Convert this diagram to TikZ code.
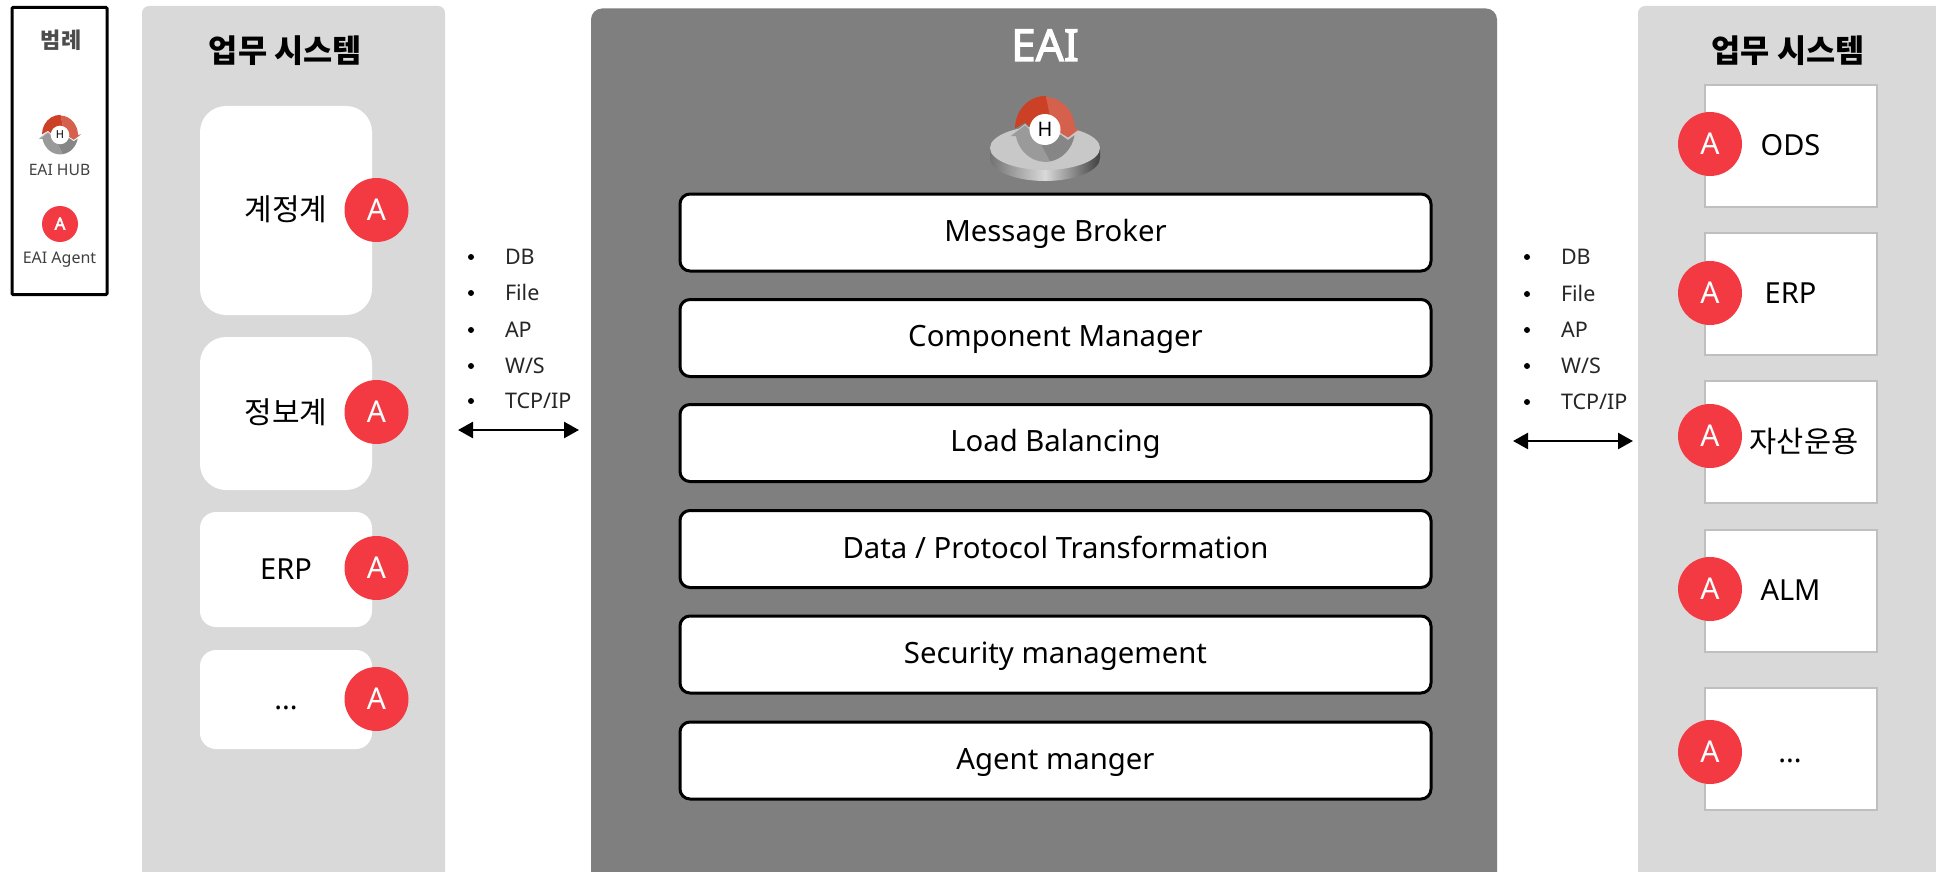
\documentclass[tikz,border=0pt]{standalone}
\usepackage{fontspec}
\setmainfont{Noto Sans}
\newfontfamily\kr{Noto Sans CJK KR}
\newfontfamily\semi[FakeBold=2.5]{Noto Sans}
\usetikzlibrary{arrows.meta}
\definecolor{panelgray}{HTML}{D9D9D9}
\definecolor{hubgray}{HTML}{7F7F7F}
\definecolor{agentred}{HTML}{F33A43}
\definecolor{boxedge}{HTML}{BFBFBF}
\definecolor{hubred}{HTML}{CC4125}
\definecolor{hubredlt}{HTML}{D5604C}
\definecolor{ringlt}{HTML}{9A9A9A}
\definecolor{ringdk}{HTML}{868686}
\definecolor{disktop}{HTML}{C8C8C8}
\newcommand{\fs}[1]{\fontsize{#1}{#1}\selectfont}
\newcommand{\capstrut}{\rule[-.17em]{0pt}{1.02em}}
\tikzset{
  x=1pt,y=-1pt,
  blockbox/.style={inner sep=0pt,outer sep=0pt,text=black,execute at begin node=\capstrut},
  panel/.style={inner sep=0pt,outer sep=0pt,fill=panelgray,rounded corners=7pt,minimum width=#1},
  whitebox/.style={blockbox,fill=white,font=\fs{29},minimum width=172pt},
  sysbox/.style={blockbox,fill=white,draw=boxedge,line width=2pt,font=\fs{29},minimum width=172pt,minimum height=122pt},
  rowbox/.style={blockbox,fill=white,draw=black,line width=3pt,rounded corners=10pt,font=\fs{29.3},minimum width=751pt,minimum height=77pt},
  agent/.style={circle,inner sep=0pt,outer sep=0pt,fill=agentred,text=white,minimum size=#1,execute at begin node=\capstrut},
  agent/.default=64pt,
  plain/.style={inner sep=0pt,outer sep=0pt,execute at begin node=\capstrut},
  listtext/.style={plain,anchor=west,font=\fs{21.5},text=black!85},
  bullet/.style={circle,fill=black,inner sep=0pt,minimum size=6pt},
  title/.style={plain,text=black,font=\kr\bfseries\fs{31.7}},
  link/.style={line width=2.5pt,{Triangle[length=15pt,width=16pt]}-{Triangle[length=15pt,width=16pt]}}
}
\newcommand{\hubring}[5]{% name, cx, cy, scale, H size
  \begin{scope}[shift={(#2,#3)},scale=#4]
    \fill[ringlt] (-35,6.5) -- (-20,-5) -- (-9,5.5) -- (5,32) arc (81:168:30 and 32.5) -- cycle;
    \fill[ringdk] (5,32) -- (-9,5.5) -- (11,2) -- (23,10.5) -- (29.5,5.8) arc (10.5:81:30 and 32.5) -- cycle;
    \draw[disktop,line width=.8pt] (-35,6.5) -- (-20,-5) -- (-9,5.5);
    \fill[hubred] (-30,-1) arc (180:272:30 and 32.5) -- (5,-14) -- (0,-1) -- (-13,-1) -- (-20,-7) -- cycle;
    \fill[hubredlt] (1,-32.5) arc (272:360:30 and 32.5) -- (35,-1) -- (23,8) -- (11,0.5) -- (0,-1) -- (5,-14) -- cycle;
    \node[circle,fill=white,inner sep=0pt,minimum size=31pt*#4] (#1) at (0,0) {\fs{#5}H};
  \end{scope}
}
\begin{document}
\begin{tikzpicture}
\useasboundingbox (0,0) rectangle (1936,872);
\clip (0,0) rectangle (1936,872);
\fill[white] (0,0) rectangle (1936,872);

% legend
\node[draw=black,line width=3pt,rounded corners=1pt,minimum width=95pt,minimum height=287pt,inner sep=0pt] (legend) at (59.5,151) {};
\node[plain,font=\kr\bfseries\fs{22},text=black!70] (legendtitle) at (61,41) {범례};
\hubring{legendhub}{60}{135}{0.6}{11}
\node[plain,font=\fs{15.7},text=black!75] (legendhublabel) at (59.5,170) {EAI HUB};
\node[agent=36pt,font=\semi\fs{17}] (legendagent) at (60,224) {A};
\node[plain,font=\fs{16},text=black!75] (legendagentlabel) at (59.5,259) {EAI Agent};

% left panel
\node[panel=303pt,minimum height=880pt] (leftpanel) at (293.5,446) {};
\node[title] (lefttitle) at (285.5,52) {업무 시스템};
\node[whitebox,rounded corners=26pt,minimum height=209pt,font=\kr\fs{30}] (acct) at (286,210.5) {계정계};
\node[whitebox,rounded corners=26pt,minimum height=153pt,font=\kr\fs{30}] (info) at (286,413.5) {정보계};
\node[whitebox,rounded corners=16pt,minimum height=115pt] (erpl) at (286,569.5) {ERP};
\node[whitebox,rounded corners=16pt,minimum height=99pt] (morel) at (286,699.5) {...};
\node[agent,font=\fs{30}] (a1) at (376.5,210) {A};
\node[agent,font=\fs{30}] (a2) at (376.5,412) {A};
\node[agent,font=\fs{30}] (a3) at (376.5,568) {A};
\node[agent,font=\fs{30}] (a4) at (376.5,699) {A};

% left protocol list
\foreach \n/\y/\t in {1/257/DB,2/293/File,3/330/AP,4/366/{W/S},5/401/{TCP/IP}}{
  \node[bullet] (lb\n) at (471,\y) {};
  \node[listtext] (lt\n) at (505,\y) {\t};
}
\coordinate (la) at (458,430);
\coordinate (lb) at (579,430);
\draw[link] (la) -- (lb);

% centre
\node[inner sep=0pt,outer sep=0pt,fill=hubgray,rounded corners=11pt,minimum width=906pt,minimum height=883pt] (eai) at (1044,450) {};
\node[plain,text=white,font=\semi\fs{44}] (eaititle) at (1045,46) {EAI};
\shade[left color=black!55,right color=black!75,middle color=white!85!black] (990,148) -- (990,158) arc (180:0:55 and 23) -- (1100,148) -- cycle;
\fill[disktop] (1045,148) ellipse (55 and 22);
\hubring{hub}{1045}{129.5}{1}{20}

\node[rowbox] (r1) at (1055.5,232.5) {Message Broker};
\node[rowbox] (r2) at (1055.5,338) {Component Manager};
\node[rowbox] (r3) at (1055.5,443) {Load Balancing};
\node[rowbox] (r4) at (1055.5,549) {Data / Protocol Transformation};
\node[rowbox] (r5) at (1055.5,654.5) {Security management};
\node[rowbox] (r6) at (1055.5,760.5) {Agent manger};

% right protocol list
\foreach \n/\y/\t in {1/257/DB,2/294/File,3/330/AP,4/366/{W/S},5/402/{TCP/IP}}{
  \node[bullet] (rb\n) at (1527,\y) {};
  \node[listtext] (rt\n) at (1561,\y) {\t};
}
\coordinate (ra) at (1513,441);
\coordinate (rb) at (1633,441);
\draw[link] (ra) -- (rb);

% right panel
\node[panel=320pt,minimum height=880pt] (rightpanel) at (1798,446) {};
\node[title] (righttitle) at (1788,52) {업무 시스템};
\node[sysbox] (ods) at (1790.5,146) {ODS};
\node[sysbox] (erpr) at (1790.5,293.5) {ERP};
\node[sysbox] (asset) at (1790.5,442) {};
\node[plain,font=\kr\fs{29.5}] (assetlabel) at (1804,442) {자산운용};
\node[sysbox] (alm) at (1790.5,590.5) {ALM};
\node[sysbox] (morer) at (1790.5,749) {};
\node[plain,font=\fs{29}] (morelabel) at (1790,753) {...};
\node[agent,font=\fs{30}] (b1) at (1710,144) {A};
\node[agent,font=\fs{30}] (b2) at (1710,293) {A};
\node[agent,font=\fs{30}] (b3) at (1710,436) {A};
\node[agent,font=\fs{30}] (b4) at (1710,589) {A};
\node[agent,font=\fs{30}] (b5) at (1710,752) {A};
\end{tikzpicture}
\end{document}
